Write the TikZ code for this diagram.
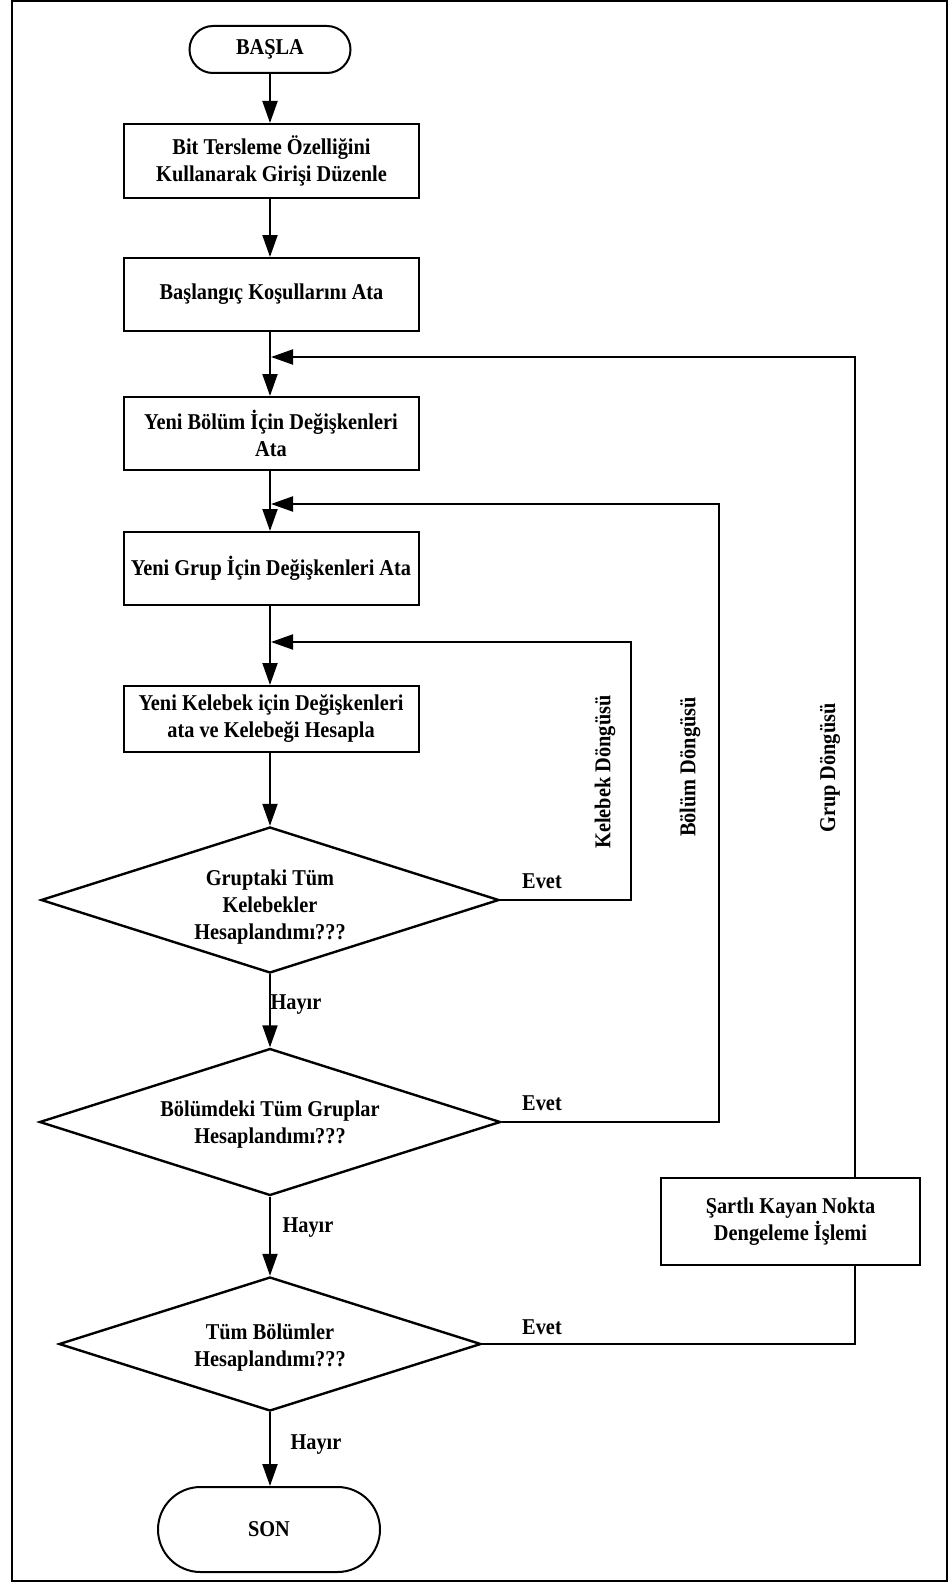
\documentclass[tikz,border=0pt]{standalone}
\usepackage{fontspec}
\setmainfont{Liberation Serif}[FakeStretch=0.9]
\usetikzlibrary{shapes.geometric,shapes.misc,arrows.meta}
\begin{document}
\begin{tikzpicture}[x=0.5pt,y=-0.5pt,
  every node/.style={font=\fontsize{11.3}{13.5}\selectfont\bfseries, align=center},
  proc/.style={draw, line width=1pt, rectangle, inner sep=0pt,
               minimum width=147.5pt, minimum height=36.5pt},
  term/.style={draw, line width=1pt, rounded rectangle, inner sep=0pt},
  decide/.style={draw, line width=1.2pt, diamond, inner sep=0pt},
  flow/.style={line width=1pt, -{Triangle[length=11pt,width=7.5pt]}},
  link/.style={line width=1pt},
  lbl/.style={inner sep=0pt},
]
\useasboundingbox (0,0) rectangle (948,1584);
% outer frame
\draw[line width=0.9pt] (12,1) rectangle (947,1581);

% main column
\node[term, minimum width=80.5pt, minimum height=23.5pt] (start) at (270,49.5) {BAŞLA};
\node[proc, minimum height=37pt] (b1) at (271.5,161) {Bit Tersleme Özelliğini\\Kullanarak Girişi Düzenle};
\node[proc] (b2) at (271.5,294.5) {Başlangıç Koşullarını Ata};
\node[proc] (b3) at (271,433.5) {Yeni Bölüm İçin Değişkenleri\\Ata};
\node[proc] (b4) at (271,568.5) {Yeni Grup İçin Değişkenleri Ata};
\node[proc, minimum height=33pt] (b5) at (271,719) {Yeni Kelebek için Değişkenleri\\ata ve Kelebeği Hesapla};

% decisions: outline nodes, with their questions set just below centre
\node[decide, minimum width=229pt, minimum height=73pt] (d1) at (270,900) {};
\node[lbl] (d1t) at (270,907) {Gruptaki Tüm\\Kelebekler\\Hesaplandımı???};
\node[decide, minimum width=230.5pt, minimum height=73.5pt] (d2) at (270,1122) {};
\node[lbl] (d2t) at (270,1124.5) {Bölümdeki Tüm Gruplar\\Hesaplandımı???};
\node[decide, minimum width=211pt, minimum height=67pt] (d3) at (270,1344) {};
\node[lbl] (d3t) at (270,1347.5) {Tüm Bölümler\\Hesaplandımı???};

\node[term, minimum width=111pt, minimum height=42.5pt] (son) at (269,1529.5) {SON};

% side box
\node[proc, minimum width=129.5pt, minimum height=43.5pt] (sk) at (790.5,1221.5) {Şartlı Kayan Nokta\\Dengeleme İşlemi};

% main flow
\draw[flow] (start.south -| 270,0) -- (b1.north -| 270,0);
\draw[flow] (b1.south -| 270,0) -- (b2.north -| 270,0);
\draw[flow] (b2.south -| 270,0) -- (b3.north -| 270,0);
\draw[flow] (b3.south -| 270,0) -- (b4.north -| 270,0);
\draw[flow] (b4.south -| 270,0) -- (b5.north -| 270,0);
\draw[flow] (b5.south -| 270,0) -- (d1.north);
\draw[flow] (d1.south) -- (d2.north);
\draw[flow] (d2.south) -- (d3.north);
\draw[flow] (d3.south) -- (son.north -| d3.south);

% loop turning points and entry points
\coordinate (kx) at (631,642);
\coordinate (kin) at (271,642);
\coordinate (bx) at (719,504);
\coordinate (bin) at (271,504);
\coordinate (gx) at (855,357);
\coordinate (gin) at (271,357);

\draw[flow] (d1.east) -| (kx) -- (kin);
\draw[flow] (d2.east) -| (bx) -- (bin);
\draw[link] (d3.east) -| (sk.south -| gx);
\draw[flow] (sk.north -| gx) -- (gx) -- (gin);

% branch labels
\node[lbl] (e1) at (542,881) {Evet};
\node[lbl] (e2) at (542,1103) {Evet};
\node[lbl] (e3) at (542,1327) {Evet};
\node[lbl] (h1) at (296,1005) {Hayır};
\node[lbl] (h2) at (308,1228) {Hayır};
\node[lbl] (h3) at (316,1445) {Hayır};

% loop names
\node[lbl, rotate=90] (kd) at (605,772) {Kelebek Döngüsü};
\node[lbl, rotate=90] (bd) at (690,767) {Bölüm Döngüsü};
\node[lbl, rotate=90] (gd) at (830,768) {Grup Döngüsü};
\end{tikzpicture}
\end{document}
